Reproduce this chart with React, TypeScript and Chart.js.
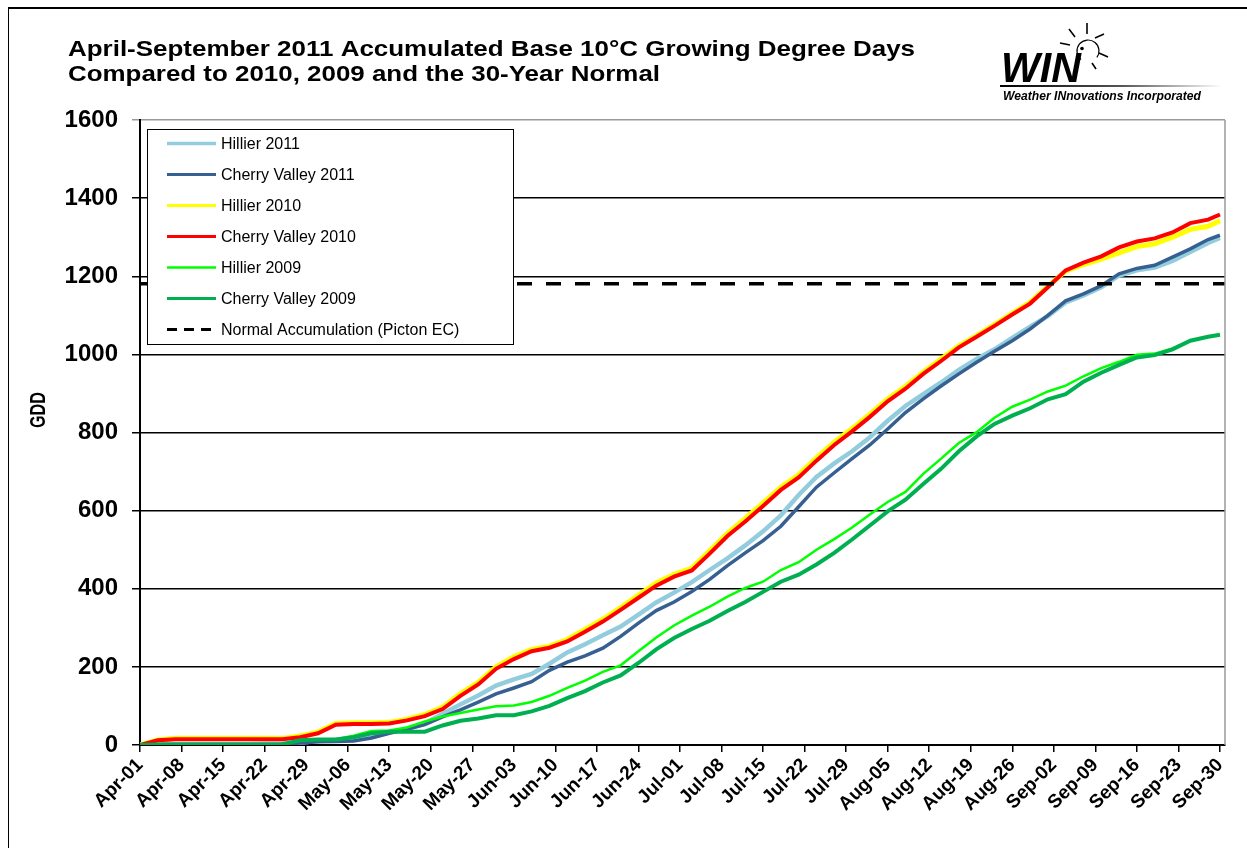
import React, { useEffect, useRef } from "react";
import { Chart, registerables } from "chart.js";

Chart.register(...registerables);

const FONT = '"Liberation Sans", Arial, Helvetica, sans-serif';

// Day index from Apr-01 (0) to Sep-30 (182)
const sampleDays = [
  0, 3, 6, 9, 12, 15, 18, 21, 24, 27, 30, 33, 36, 39, 42, 45, 48, 51, 54, 57,
  60, 63, 66, 69, 72, 75, 78, 81, 84, 87, 90, 93, 96, 99, 102, 105, 108, 111, 114, 117,
  120, 123, 126, 129, 132, 135, 138, 141, 144, 147, 150, 153, 156, 159, 162, 165, 168, 171, 174, 177,
  180, 182,
];

const tickDays = [0, 7, 14, 21, 28, 35, 42, 49, 56, 63, 70, 77, 84, 91, 98, 105, 112, 119, 126, 133, 140, 147, 154, 161, 168, 175, 182];
const tickLabels = [
  "Apr-01", "Apr-08", "Apr-15", "Apr-22", "Apr-29", "May-06", "May-13", "May-20", "May-27",
  "Jun-03", "Jun-10", "Jun-17", "Jun-24", "Jul-01", "Jul-08", "Jul-15", "Jul-22", "Jul-29",
  "Aug-05", "Aug-12", "Aug-19", "Aug-26", "Sep-02", "Sep-09", "Sep-16", "Sep-23", "Sep-30",
];

const hillier2011 = [
  0, 2, 2, 2, 2, 2, 2, 3, 3, 6,
  10, 13, 15, 20, 32, 42, 55, 80, 104, 127,
  152, 168, 182, 208, 237, 258, 281, 303, 334, 365,
  390, 417, 448, 478, 511, 547, 588, 640, 686, 721,
  752, 788, 830, 868, 898, 928, 960, 988, 1013, 1042,
  1071, 1098, 1133, 1151, 1172, 1202, 1215, 1222, 1239, 1262,
  1285, 1298,
];
const cherryValley2011 = [
  0, 1, 1, 1, 1, 1, 1, 1, 2, 5,
  8, 9, 10, 18, 30, 40, 52, 72, 90, 110,
  131, 146, 162, 191, 212, 228, 248, 278, 312, 344,
  366, 393, 424, 459, 492, 523, 560, 610, 660, 697,
  733, 768, 809, 851, 886, 919, 950, 980, 1008, 1035,
  1065, 1100, 1137, 1155, 1176, 1206, 1220, 1228, 1249, 1270,
  1294, 1305,
];
const hillier2010 = [
  0, 13, 17, 17, 17, 17, 17, 17, 17, 23,
  33, 55, 57, 57, 58, 66, 78, 97, 132, 160,
  200, 226, 245, 253, 270, 296, 322, 352, 384, 415,
  437, 453, 497, 542, 580, 620, 660, 692, 735, 775,
  810, 847, 886, 918, 955, 988, 1022, 1048, 1076, 1105,
  1133, 1174, 1213, 1230, 1244, 1260, 1276, 1283, 1300, 1320,
  1328, 1342,
];
const cherryValley2010 = [
  0, 12, 15, 15, 15, 15, 15, 15, 15, 20,
  30, 52, 54, 54, 55, 63, 74, 92, 126, 155,
  195, 220, 240, 249, 265, 290, 316, 346, 377, 408,
  431, 447, 490, 535, 572, 612, 653, 685, 728, 768,
  803, 840, 880, 912, 950, 983, 1018, 1045, 1073, 1102,
  1130, 1172, 1215, 1235, 1251, 1274, 1289, 1297, 1312, 1336,
  1345, 1358,
];
const hillier2009 = [
  0, 1, 1, 1, 1, 1, 1, 1, 2, 12,
  14, 15, 24, 36, 37, 45, 60, 73, 82, 91,
  99, 101, 110, 126, 146, 165, 187, 204, 240, 275,
  306, 331, 354, 380, 402, 418, 448, 468, 500, 527,
  557, 590, 622, 648, 694, 733, 773, 801, 838, 866,
  884, 905, 920, 944, 965, 981, 999, 1002, 1015, 1035,
  1045, 1050,
];
const cherryValley2009 = [
  0, 1, 1, 1, 1, 1, 1, 1, 2, 12,
  14, 14, 20, 30, 34, 34, 34, 50, 62, 68,
  76, 76, 86, 100, 120, 138, 160, 178, 210, 245,
  274, 297, 318, 343, 366, 392, 418, 436, 462, 492,
  526, 562, 598, 628, 668, 707, 752, 790, 822, 843,
  862, 885, 898, 930, 953, 973, 992, 998, 1013, 1035,
  1045, 1050,
];

const normalDays = [0, 182.85];
const normalAccumulation = [1181, 1181];

const titleLines = [
  "April-September 2011 Accumulated Base 10°C Growing Degree Days",
  "Compared to 2010, 2009 and the 30-Year Normal",
];
const yAxisTitle = "GDD";
const logoText = "WIN";
const logoSubText = "Weather INnovations Incorporated";

const seriesDefs = [
  { label: "Hillier 2011", values: hillier2011, color: "#93CDDD", width: 4.5, legendWidth: 3.5 },
  { label: "Cherry Valley 2011", values: cherryValley2011, color: "#376092", width: 3.5, legendWidth: 2.8 },
  { label: "Hillier 2010", values: hillier2010, color: "#FFFF00", width: 5, legendWidth: 3.2 },
  { label: "Cherry Valley 2010", values: cherryValley2010, color: "#FF0000", width: 4, legendWidth: 2.8 },
  { label: "Hillier 2009", values: hillier2009, color: "#00FF00", width: 2.5, legendWidth: 2.6 },
  { label: "Cherry Valley 2009", values: cherryValley2009, color: "#00B050", width: 4, legendWidth: 3.2 },
];

function toPoints(days: number[], vals: number[]) {
  return days.map((d, i) => ({ x: d, y: vals[i] }));
}

function fitText(ctx: CanvasRenderingContext2D, text: string, x: number, y: number, width: number, font: string) {
  ctx.font = font;
  const w = ctx.measureText(text).width;
  ctx.save();
  ctx.translate(x, y);
  ctx.scale(width / w, 1);
  ctx.textAlign = "left";
  ctx.textBaseline = "alphabetic";
  ctx.fillText(text, 0, 0);
  ctx.restore();
}

const decorPlugin = {
  id: "decor",
  beforeDraw(chart: any) {
    const ctx: CanvasRenderingContext2D = chart.ctx;
    ctx.save();
    ctx.fillStyle = "#fff";
    ctx.fillRect(0, 0, chart.width, chart.height);
    ctx.fillStyle = "#000";
    ctx.fillRect(8, 7, chart.width - 8, 2);
    ctx.fillRect(8, 7, 1, chart.height - 7);
    ctx.restore();
  },
  afterDraw(chart: any) {
    const ctx: CanvasRenderingContext2D = chart.ctx;
    const area = chart.chartArea;
    ctx.save();

    // plot area right border
    ctx.strokeStyle = "#9a9a9a";
    ctx.lineWidth = 1.5;
    ctx.beginPath();
    ctx.moveTo(area.right, area.top);
    ctx.lineTo(area.right, area.bottom);
    ctx.stroke();

    // title
    ctx.fillStyle = "#000";
    fitText(ctx, titleLines[0], 68, 56, 847, `bold 22px ${FONT}`);
    fitText(ctx, titleLines[1], 68, 81, 592, `bold 22px ${FONT}`);

    // y axis title (condensed along its direction)
    ctx.save();
    ctx.translate(45, 410);
    ctx.rotate(-Math.PI / 2);
    ctx.font = `bold 22px ${FONT}`;
    const gw = ctx.measureText(yAxisTitle).width;
    ctx.scale(36 / gw, 1);
    ctx.textAlign = "center";
    ctx.textBaseline = "alphabetic";
    ctx.fillText(yAxisTitle, 0, 0);
    ctx.restore();

    // logo
    fitText(ctx, logoText, 1001, 82, 80, `italic bold 42px ${FONT}`);
    fitText(ctx, logoSubText, 1003, 100, 198, `italic bold 12px ${FONT}`);
    const grad = ctx.createLinearGradient(1000, 0, 1222, 0);
    grad.addColorStop(0, "#000");
    grad.addColorStop(0.55, "#555");
    grad.addColorStop(1, "#fff");
    ctx.fillStyle = grad;
    ctx.fillRect(1000, 85, 222, 2);
    ctx.strokeStyle = "#000";
    ctx.lineWidth = 1.2;
    ctx.beginPath();
    ctx.arc(1088, 51, 11, Math.PI * 0.72, Math.PI * 2.2);
    ctx.stroke();
    ctx.fillStyle = "#000";
    ctx.beginPath();
    ctx.arc(1082, 48.5, 1.8, 0, Math.PI * 2);
    ctx.fill();
    const rays = [
      [1087, 23, 1087, 34],
      [1069, 29, 1075, 37],
      [1060, 43, 1070, 45],
      [1095, 38, 1104, 34],
      [1099, 53, 1108, 57],
      [1092, 63, 1096, 69],
    ];
    ctx.lineWidth = 1.6;
    rays.forEach((r) => {
      ctx.beginPath();
      ctx.moveTo(r[0], r[1]);
      ctx.lineTo(r[2], r[3]);
      ctx.stroke();
    });

    // boxed legend
    const x0 = 147, y0 = 129, w = 366, h = 215;
    ctx.fillStyle = "#fff";
    ctx.fillRect(x0, y0, w, h);
    ctx.strokeStyle = "#000";
    ctx.lineWidth = 1;
    ctx.strokeRect(x0 + 0.5, y0 + 0.5, w, h);
    chart.data.datasets.forEach((ds: any, i: number) => {
      const cy = 143.5 + i * 31;
      ctx.beginPath();
      ctx.strokeStyle = ds.borderColor;
      ctx.lineWidth = ds.legendWidth || 3;
      ctx.setLineDash(ds.borderDash ? [10, 7] : []);
      ctx.moveTo(167, cy);
      ctx.lineTo(216, cy);
      ctx.stroke();
      ctx.setLineDash([]);
      ctx.fillStyle = "#000";
      ctx.font = `16px ${FONT}`;
      ctx.textAlign = "left";
      ctx.textBaseline = "middle";
      ctx.fillText(ds.label, 221, cy + 1);
    });
    ctx.restore();
  },
};

export default function App() {
  const ref = useRef<HTMLCanvasElement | null>(null);

  useEffect(() => {
    if (!ref.current) return;
    const datasets: any[] = seriesDefs.map((s, i) => ({
      label: s.label,
      data: toPoints(sampleDays, s.values),
      borderColor: s.color,
      backgroundColor: s.color,
      borderWidth: s.width,
      legendWidth: s.legendWidth,
      pointRadius: 0,
      tension: 0,
      fill: false,
      order: 7 - i,
    }));
    datasets.push({
      label: "Normal Accumulation (Picton EC)",
      data: toPoints(normalDays, normalAccumulation),
      borderColor: "#000",
      backgroundColor: "#000",
      borderWidth: 3.5,
      legendWidth: 3,
      borderDash: [15, 14],
      pointRadius: 0,
      fill: false,
      order: 0,
    });

    const chart = new Chart(ref.current, {
      type: "line",
      data: { datasets },
      plugins: [decorPlugin],
      options: {
        responsive: false,
        animation: false,
        layout: { padding: { left: 0, top: 120, right: 22, bottom: 0 } },
        plugins: {
          legend: { display: false },
          title: { display: false },
          tooltip: { enabled: false },
        },
        scales: {
          x: {
            type: "linear",
            min: 0,
            max: 182.85,
            afterBuildTicks: (scale: any) => {
              scale.ticks = tickDays.map((v) => ({ value: v }));
            },
            afterFit: (scale: any) => {
              scale.height = 103;
            },
            ticks: {
              autoSkip: false,
              maxRotation: 45,
              minRotation: 45,
              padding: 2,
              color: "#000",
              font: { family: FONT, size: 19, weight: "bold" },
              callback: (_v: any, index: number) => tickLabels[index],
            },
            grid: {
              drawOnChartArea: false,
              drawTicks: true,
              tickLength: 7,
              color: "#000",
              lineWidth: 1.5,
            },
            border: { color: "#000", width: 2 },
          },
          y: {
            min: 0,
            max: 1600,
            afterFit: (scale: any) => {
              scale.width = 140;
            },
            ticks: {
              stepSize: 200,
              padding: 14,
              color: "#000",
              font: { family: FONT, size: 24, weight: "bold" },
              callback: (v: any) => String(v),
            },
            grid: {
              color: (c: any) => (c.tick && c.tick.value === 1600 ? "#9a9a9a" : "#000"),
              lineWidth: 1.5,
              tickLength: 8,
            },
            border: { color: "#000", width: 2 },
          },
        },
      } as any,
    });
    return () => chart.destroy();
  }, []);

  return (
    <div style={{ width: 1247, height: 848, overflow: "hidden" }}>
      <style>{"html,body{margin:0;padding:0;overflow:hidden;background:#fff}"}</style>
      <canvas ref={ref} width={1247} height={848} style={{ display: "block" }} />
    </div>
  );
}
